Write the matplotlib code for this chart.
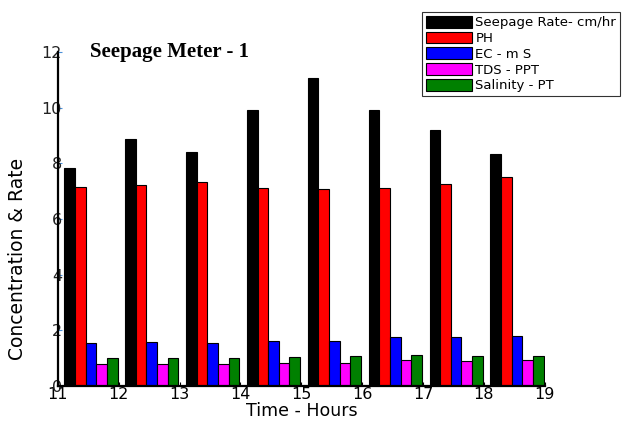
import matplotlib
matplotlib.use("Agg")
import matplotlib.pyplot as plt
import numpy as np

hours = [11, 12, 13, 14, 15, 16, 17, 18]
seepage = [7.85, 8.88, 8.41, 9.91, 11.09, 9.91, 9.20, 8.35]
ph = [7.17, 7.23, 7.33, 7.11, 7.09, 7.12, 7.27, 7.52]
ec = [1.56, 1.60, 1.56, 1.62, 1.62, 1.78, 1.78, 1.80]
tds = [0.79, 0.79, 0.79, 0.83, 0.83, 0.94, 0.90, 0.94]
salinity = [1.00, 1.00, 1.00, 1.03, 1.07, 1.10, 1.07, 1.07]

series = [seepage, ph, ec, tds, salinity]
labels = ["Seepage Rate- cm/hr", "PH", "EC - m S", "TDS - PPT", "Salinity - PT"]
colors = ["#000000", "#ff0000", "#0000ff", "#ff00ff", "#008000"]
xticks = [11, 12, 13, 14, 15, 16, 17, 18, 19]
yticks = [0, 2, 4, 6, 8, 10, 12]

plt.rcParams['font.family'] = ['DejaVu Sans']

fig = plt.figure(figsize=(6.22, 4.21), dpi=100)
ax = fig.add_axes([0.093, 0.083, 0.783, 0.793])

w = 0.175
start = 0.105
x = np.array(hours, dtype=float)
handles = []
for i, (vals, lab, c) in enumerate(zip(series, labels, colors)):
    b = ax.bar(x + start + i * w, vals, width=w, align='edge', color=c,
               edgecolor='black', linewidth=0.8, label=lab)
    handles.append(b)

ax.set_xlim(11, 19)
ax.set_ylim(0, 12)
ax.set_xticks(xticks)
ax.set_yticks(yticks)
ax.tick_params(axis='both', labelsize=11.5, direction='in', length=3, pad=1)
ax.tick_params(axis='y', colors='#4a90d9', labelcolor='black', pad=-3)
for t in ax.get_yticklabels():
    t.set_color('#222222')
ax.spines['top'].set_visible(False)
ax.spines['right'].set_visible(False)
ax.spines['left'].set_linewidth(1.6)
ax.spines['bottom'].set_linewidth(1.6)

ax.set_xlabel("Time - Hours", fontsize=12.5, labelpad=0)
ax.set_ylabel("Concentration & Rate", fontsize=13.5, va='center')
ax.yaxis.set_label_coords(-0.083, 0.38)

fig.text(0.145, 0.877, "Seepage Meter - 1", fontsize=15, fontweight='bold',
         family='Liberation Serif', va='center')

leg = fig.legend(handles=handles, loc='upper right', bbox_to_anchor=(0.997, 0.972),
                 fontsize=9.5, frameon=True, fancybox=False, edgecolor='black',
                 handlelength=3.5, handleheight=1.0, handletextpad=0.25,
                 labelspacing=0.18, borderpad=0.3, borderaxespad=0)
leg.get_frame().set_linewidth(0.8)

fig.savefig("out.png", dpi=100)
